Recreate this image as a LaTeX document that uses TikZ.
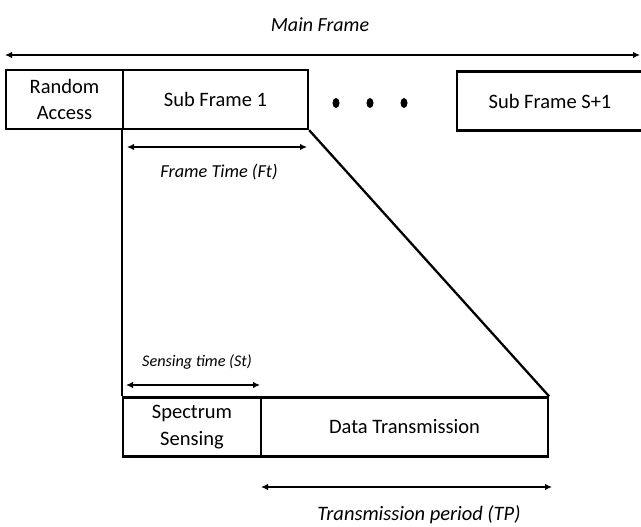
\documentclass[tikz,border=0pt]{standalone}
\usepackage{fontspec}
\setmainfont{Carlito}
\usetikzlibrary{arrows.meta}
\begin{document}
\begin{tikzpicture}[x=1pt,y=-1pt,
    quadro/.style={draw, line width=2.3pt, inner sep=0pt, minimum height=59pt, align=center, font=\fontsize{20.5}{26.5}\selectfont},
    seta/.style={line width=2.2pt, {Latex[length=7pt,width=6.5pt]}-{Latex[length=7pt,width=6.5pt]}},
    rotulo/.style={font=\fontsize{20}{24}\selectfont\itshape}]
        % Area do desenho
        \useasboundingbox (0,0) rectangle (641,527);

        % Quadro principal
        \node[quadro, minimum width=117pt] (ra) at (64.5,99.5) {Random\\Access};
        \node[quadro, minimum width=185pt] (sf1) at (215.5,99.5) {Sub Frame 1};
        \node[quadro, minimum width=186pt] (sfs) at (550,101) {Sub Frame S+1};

        % Reticencias entre os sub quadros
        \foreach \x in {336,370,404} {
            \fill (\x,103) ellipse (3.5pt and 5pt);
        }

        % Detalhe do sub quadro
        \node[quadro, minimum width=138pt] (ss) at (192,427) {Spectrum\\Sensing};
        \node[quadro, minimum width=287pt] (dt) at (404.5,427) {Data Transmission};

        % Linhas de ampliacao
        \draw[line width=2.3pt] (sf1.south west) -- (ss.north west);
        \draw[line width=2.3pt] (sf1.south east) -- (dt.north east);

        % Setas de duracao: {esq/dir/y}
        \foreach \xa/\xb/\y [count=\i] in {5/640/55, 127/307/147, 126/260/385, 261/552/487} {
            \coordinate (a\i) at (\xa,\y);
            \coordinate (b\i) at (\xb,\y);
            \draw[seta] (a\i) -- (b\i);
        }

        % Rotulos das setas
        \node[rotulo] (lmf) at (320,25) {Main Frame};
        \node[rotulo, font=\fontsize{18.3}{22}\selectfont\itshape] (lft) at (219,172) {Frame Time (Ft)};
        \node[rotulo, font=\fontsize{16.2}{19}\selectfont\itshape] (lst) at (197,362) {Sensing time (St)};
        \node[rotulo, font=\fontsize{20.5}{24}\selectfont\itshape] (ltp) at (419,515) {Transmission period (TP)};
\end{tikzpicture}
\end{document}
